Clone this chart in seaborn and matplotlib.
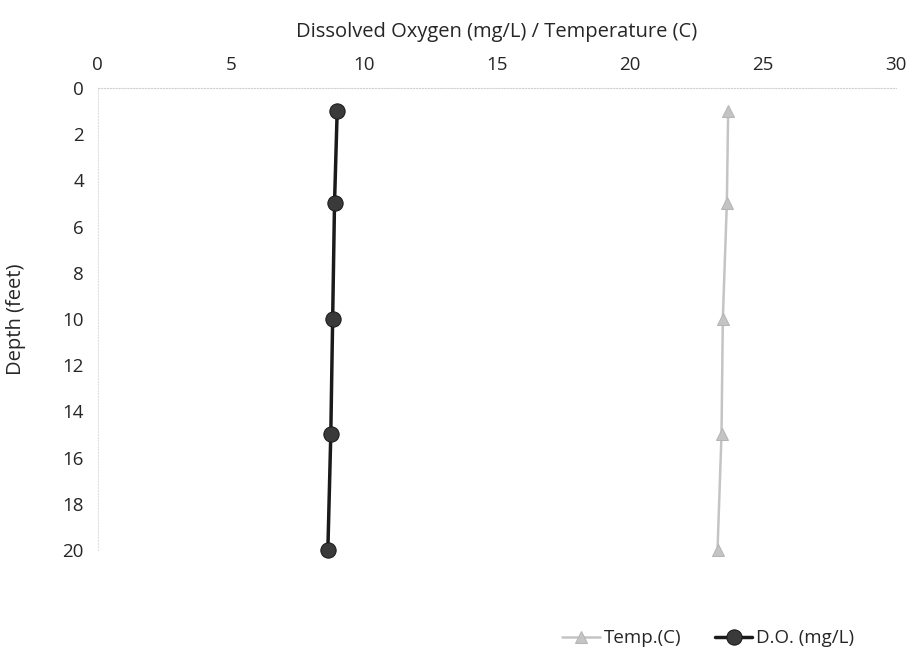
import pandas as pd
import seaborn as sns
import matplotlib.pyplot as plt

# Depth profile data
depth = [1, 5, 10, 15, 20]
temp_c = [23.7, 23.65, 23.5, 23.45, 23.3]
do_mgl = [9.0, 8.9, 8.83, 8.76, 8.65]

df = pd.DataFrame({'depth': depth, 'temp': temp_c, 'do': do_mgl})

sns.set_style('white')
plt.rcParams['font.family'] = ['Open Sans', 'DejaVu Sans']

fig = plt.figure(figsize=(9.14, 6.61), dpi=100)
ax = fig.add_axes([0.107, 0.168, 0.873, 0.699])

sns.lineplot(data=df, x='temp', y='depth', sort=False, orient='y', ax=ax,
             color='#c4c4c4', linewidth=1.8, marker='^', markersize=9,
             markeredgecolor='#b5b5b5', label='Temp.(C)', clip_on=False)
sns.lineplot(data=df, x='do', y='depth', sort=False, orient='y', ax=ax,
             color='#1a1a1a', linewidth=2.5, marker='o', markersize=11,
             markerfacecolor='#3a3a3a', markeredgecolor='#1a1a1a',
             label='D.O. (mg/L)', clip_on=False)

ax.set_xlim(0, 30)
ax.set_ylim(20, 0)
ax.set_xticks(range(0, 31, 5))
ax.set_yticks(range(0, 21, 2))
ax.xaxis.tick_top()
ax.xaxis.set_label_position('top')
ax.tick_params(axis='both', labelsize=13.5, length=0, pad=10)
ax.set_xlabel('Dissolved Oxygen (mg/L) / Temperature (C)', fontsize=14.5, labelpad=14)
ax.set_ylabel('Depth (feet)', fontsize=14.5, labelpad=26)

for side in ['right', 'bottom']:
    ax.spines[side].set_visible(False)
ax.spines['top'].set_color('#d0d0d0')
ax.spines['top'].set_linestyle(':')
ax.spines['left'].set_color('#e0e0e0')
ax.spines['left'].set_linestyle(':')

ax.legend(loc='upper center', bbox_to_anchor=(0.765, -0.135), ncol=2, frameon=False,
          fontsize=13.5, handlelength=2.0, handletextpad=0.2, columnspacing=1.8)

fig.savefig('out.png', dpi=100)
